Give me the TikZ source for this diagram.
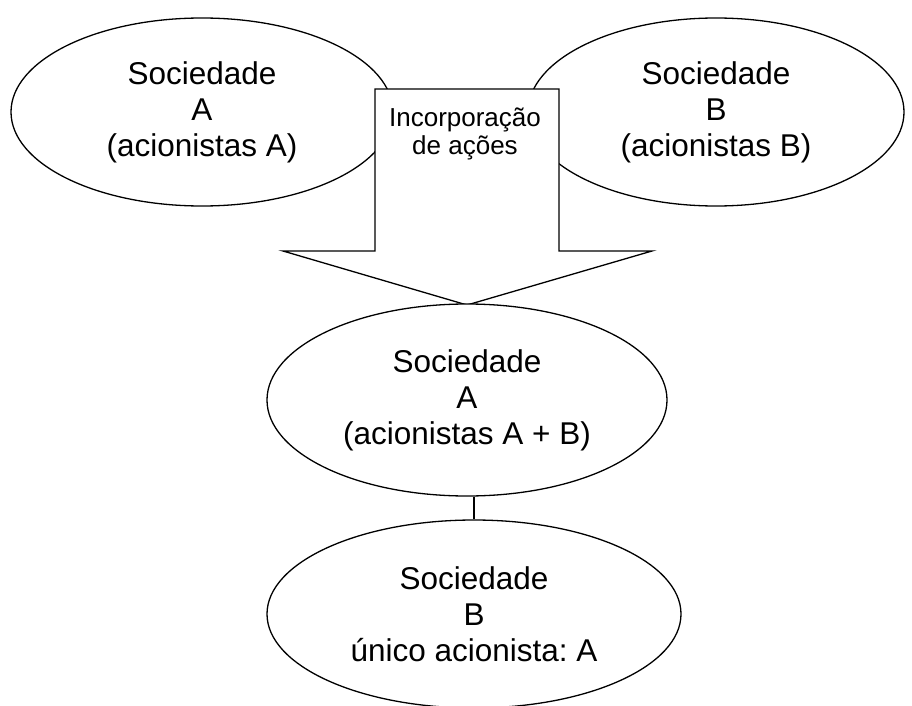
\documentclass[tikz,border=0pt]{standalone}
\usepackage{fontspec}
\setmainfont{Liberation Sans}
\usetikzlibrary{shapes.geometric}
\frenchspacing
\begin{document}
\begin{tikzpicture}[x=1pt,y=-1pt,
  line width=1.3pt,
  soc/.style={ellipse,draw=black,fill=white,inner sep=0pt,align=center,
    font=\fontsize{31.5}{36}\selectfont},
  arrowshape/.style={draw=black,fill=white,line join=miter},
  lbl/.style={align=center,font=\fontsize{26}{28.5}\selectfont}]
\useasboundingbox (0,0) rectangle (912,706);
\node[soc,minimum width=382pt,minimum height=188pt] (sa) at (202,112)
  {Sociedade\\A\\(acionistas A)};
\node[soc,minimum width=376pt,minimum height=188pt] (sb) at (716,112)
  {Sociedade\\B\\(acionistas B)};
\draw[arrowshape] (375,89) -- (559,89) -- (559,251) -- (652,251) -- (467,305)
  -- (283,251) -- (375,251) -- cycle;
\node[lbl] (inc) at (465,134) {Incorporação\\de ações};
\node[soc,minimum width=400pt,minimum height=192pt] (sab) at (467,400)
  {Sociedade\\A\\(acionistas A + B)};
\node[soc,minimum width=414pt,minimum height=188pt] (sbu) at (474,614)
  {Sociedade\\B\\único acionista: A};
\draw (sbu.north) -- (sbu.north |- sab.south);
\end{tikzpicture}
\end{document}
